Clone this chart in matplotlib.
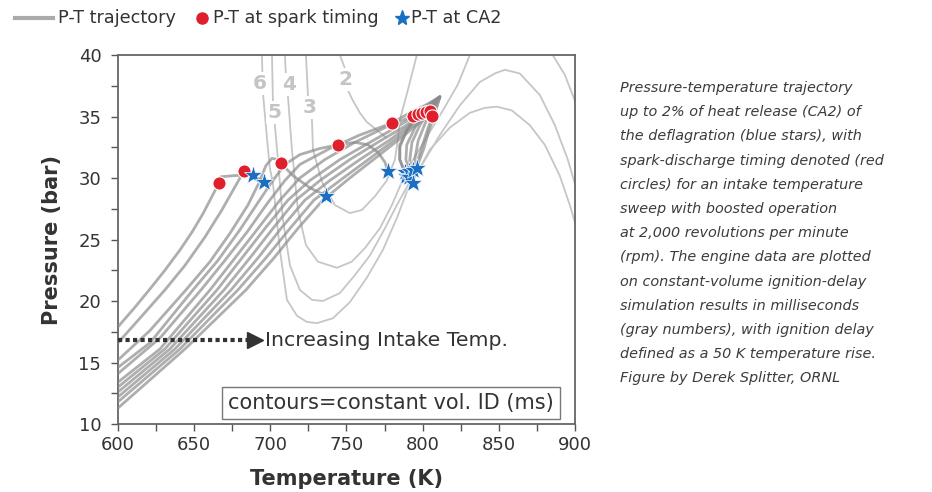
import matplotlib
matplotlib.use("Agg")
import matplotlib.pyplot as plt
from matplotlib.lines import Line2D
from matplotlib.ticker import MultipleLocator

# P-T trajectories (K, bar), one per intake temperature, compression -> spark -> CA2
traj_T = [
    [600, 611.2, 621, 630.8, 640.7, 648.6, 655.8, 661.7, 666.3, 667.6, 676.8, 688.4],
    [600, 614.4, 630.8, 644, 657.1, 668.2, 675.5, 680.1, 682.7, 689.2, 696],
    [600, 621, 644.6, 660.4, 673.5, 685.3, 692.5, 697.1, 701.1, 705, 707, 714.8, 726, 736.5],
    [600, 621, 649.2, 665.6, 680.1, 691.9, 701.1, 709.6, 719.4, 732.6, 744.4, 755.5, 764.1, 770.6, 775.2, 777.2],
    [600, 627.6, 654.5, 670.2, 684.7, 698.4, 709.6, 719.4, 739.1, 758.8, 779.8, 791.6, 801.5, 811.3, 801.5, 791.6, 785, 785, 788.3],
    [600, 627.6, 660.4, 676.8, 691.9, 706.3, 719.4, 735.8, 755.5, 775.2, 793.6, 803.4, 811.3, 799.5, 789.6, 785, 785, 789],
    [600, 630.8, 665, 681.4, 696.5, 711.6, 726, 745.7, 765.4, 783.7, 796.9, 804.7, 811.3, 803.4, 795, 789.6, 789, 790.9],
    [600, 634.1, 669.6, 686.6, 701.7, 716.8, 732.6, 752.2, 771.9, 788.3, 799.5, 806, 811.3, 804.7, 798.2, 793, 791.6, 790.9],
    [600, 637.4, 674.2, 691.9, 707, 722.7, 739.1, 758.8, 778.5, 792.9, 802.1, 807.4, 811.3, 806, 801.5, 797, 795, 793.6],
    [600, 640.7, 678.7, 697.1, 712.9, 728.6, 745.7, 765.4, 783.7, 796.9, 804.7, 808.7, 811.3, 807.4, 803.4, 799.5, 796.2, 793.6],
    [600, 644, 684, 702.4, 718.1, 734.5, 752.2, 771.9, 788.3, 799.5, 806, 809.3, 811.3, 808, 804, 800.8, 797.5, 796.2],
]
traj_P = [
    [17.9, 19.5, 20.98, 22.5, 24.15, 25.6, 27.1, 28.5, 29.6, 30.1, 30.2, 30.24],
    [16.6, 18.6, 20.9, 22.9, 25.2, 27.4, 29.0, 30.0, 30.57, 30.2, 29.65],
    [15.2, 17.6, 20.9, 23.2, 25.5, 27.8, 29.6, 31.0, 31.6, 31.5, 31.2, 30.2, 29.2, 28.56],
    [14.6, 16.6, 20.9, 23.3, 25.8, 28.0, 29.7, 31.1, 31.9, 32.4, 32.7, 32.9, 32.7, 32.1, 31.3, 30.57],
    [14.1, 17.0, 20.9, 23.3, 25.6, 28.0, 29.8, 31.1, 32.4, 33.5, 34.47, 35.3, 35.9, 36.6, 35.7, 34.3, 32.7, 31.5, 30.49],
    [13.4, 16.1, 20.9, 23.5, 25.9, 28.2, 30.0, 31.5, 32.9, 34.1, 35.04, 35.9, 36.6, 35.4, 33.9, 32.5, 31.5, 30.16],
    [13.0, 16.1, 20.9, 23.5, 25.9, 28.2, 29.8, 31.5, 32.9, 34.2, 35.2, 36.0, 36.6, 35.5, 34.1, 32.7, 31.5, 30.57],
    [12.6, 16.1, 20.9, 23.5, 25.9, 28.2, 29.8, 31.5, 33.0, 34.2, 35.28, 36.1, 36.6, 35.5, 34.3, 32.9, 31.5, 30.08],
    [12.2, 16.1, 20.9, 23.5, 25.9, 28.2, 29.8, 31.5, 33.1, 34.4, 35.37, 36.1, 36.6, 35.6, 34.4, 33.0, 31.6, 30.65],
    [11.8, 16.1, 20.9, 23.5, 25.9, 28.2, 29.8, 31.6, 33.3, 34.6, 35.45, 36.1, 36.6, 35.4, 34.0, 32.5, 31.2, 29.59],
    [11.3, 16.1, 20.9, 23.5, 25.9, 28.2, 30.0, 31.9, 33.5, 34.7, 35.04, 35.9, 36.6, 35.2, 33.8, 32.4, 31.3, 30.81],
]

# spark discharge and CA2 points
spark_T = [666.3, 682.7, 707, 744.4, 779.8, 793.6, 796.9, 799.5, 802.1, 804.7, 806]
spark_P = [29.6, 30.57, 31.2, 32.7, 34.47, 35.04, 35.2, 35.28, 35.37, 35.45, 35.04]
ca2_T = [688.4, 696, 736.5, 777.2, 788.3, 789, 790.9, 790.9, 793.6, 793.6, 796.2]
ca2_P = [30.24, 29.65, 28.56, 30.57, 30.49, 30.16, 30.57, 30.08, 30.65, 29.59, 30.81]

# constant-volume ignition delay contours (ms)
cont_T = {
    "6": [694.5, 695.1, 697.8, 699.7, 701.7, 706.3, 710.9, 717.5, 724, 730.6, 741.1, 752.2, 763.4, 773.9,
          783.1, 789.6, 796.9, 804.7, 817.9, 831, 840.8, 848.7, 858.5, 870.3, 880.2, 890, 896.6, 901.2],
    "5": [701.1, 701.7, 703, 705, 708.3, 712.9, 719.4, 727.3, 734.5, 745.7, 755.5, 765.4, 775.2, 783.1,
          791.6, 799.5, 811.3, 824.4, 837.5, 847.4, 854, 863.8, 876.9, 886.8, 895.3, 901.2],
    "4": [709.6, 710.2, 711.6, 714.2, 718.1, 723.4, 731.2, 743.7, 753.5, 762.1, 771.9, 779.8, 786.4,
          792.9, 801.5, 813.3, 823.1, 831],
    "3": [723.4, 724.7, 727.3, 728, 733.9, 742.4, 752.2, 760.1, 768.6, 776.5, 781.8, 783.7, 785, 790.3, 796.2],
    "2": [745.7, 749, 750.3, 754.2, 758.8, 763.4, 770, 775.9],
    "1": [885.4, 893.3, 901.2],
}
cont_P = {
    "6": [40, 37.0, 33.25, 30.8, 29.6, 24.15, 20.1, 18.8, 18.3, 18.2, 18.6, 19.9, 21.9, 24.15,
          26.75, 28.86, 30.5, 32.3, 34.1, 35.3, 35.7, 35.8, 35.5, 34.3, 32.7, 30.2, 27.8, 25.9],
    "5": [40, 36.3, 34.3, 31.5, 26.6, 22.9, 20.9, 20.1, 20.0, 20.65, 22.1, 23.7, 25.9, 27.8,
          29.7, 31.06, 33.5, 35.9, 37.8, 38.5, 38.8, 38.5, 36.75, 34.3, 31.5, 29.0],
    "4": [40, 38.4, 36.6, 32.3, 27.4, 24.55, 23.2, 22.7, 23.2, 24.3, 25.9, 27.8, 29.7,
          31.3, 33.1, 35.5, 37.6, 40],
    "3": [40, 36.75, 34.9, 32.3, 29.7, 27.8, 27.15, 27.4, 28.5, 29.8, 31.5, 33.1, 34.7, 37.15, 40],
    "2": [40, 38.9, 37.3, 36.3, 35.3, 34.55, 33.9, 33.3],
    "1": [40, 38.4, 35.9],
}
label_names = ["6", "5", "4", "3", "2"]
label_T = [693.2, 703, 712.2, 726, 749.6]
label_P = [37.7, 35.3, 37.6, 35.7, 38.0]

caption = [
    "Pressure-temperature trajectory",
    "up to 2% of heat release (CA2) of",
    "the deflagration (blue stars), with",
    "spark-discharge timing denoted (red",
    "circles) for an intake temperature",
    "sweep with boosted operation",
    "at 2,000 revolutions per minute",
    "(rpm). The engine data are plotted",
    "on constant-volume ignition-delay",
    "simulation results in milliseconds",
    "(gray numbers), with ignition delay",
    "defined as a 50 K temperature rise.",
    "Figure by Derek Splitter, ORNL",
]

RED = "#e01f2d"
BLUE = "#1b6fc2"
TRAJ = "#8c8c8c"
CONT = "#c6c6c6"
TXT = "#333333"

plt.rcParams["font.family"] = "DejaVu Sans"

fig = plt.figure(figsize=(9.32, 4.92), dpi=100)
ax = fig.add_axes([0.1266, 0.1382, 0.4903, 0.75])

for k in cont_T:
    ax.plot(cont_T[k], cont_P[k], color=CONT, lw=1.3, zorder=1)
for name, t, p in zip(label_names, label_T, label_P):
    ax.text(t, p, name, ha="center", va="center", fontsize=14.5, fontweight="bold",
            color="#c4c4c4", zorder=2,
            bbox=dict(boxstyle="square,pad=0.1", fc="white", ec="none"))

for t, p in zip(traj_T, traj_P):
    ax.plot(t, p, color=TRAJ, lw=2.0, alpha=0.7, solid_capstyle="round", zorder=3)

ax.plot(spark_T, spark_P, ls="none", marker="o", ms=9.5, mfc=RED, mec="white", mew=0.8, zorder=5)
ax.plot(ca2_T, ca2_P, ls="none", marker="*", ms=14, mfc=BLUE, mec="white", mew=0.5, zorder=6)

# intake temperature arrow
ax.plot([600, 686], [16.8, 16.8], color="#333333", lw=3, ls=(0, (1, 0.8)), dash_capstyle="butt", zorder=4)
ax.plot([690], [16.8], marker=">", ms=11, color="#333333", zorder=4)
ax.text(696.5, 16.8, "Increasing Intake Temp.", fontsize=14.7, color=TXT, va="center", ha="left")

ax.text(779.2, 11.7, "contours=constant vol. ID (ms)", fontsize=15, color=TXT, ha="center", va="center",
        bbox=dict(boxstyle="square,pad=0.3", fc="white", ec="#777777", lw=1.0), zorder=7)

ax.set_xlim(600, 900)
ax.set_ylim(10, 40)
ax.xaxis.set_major_locator(MultipleLocator(50))
ax.xaxis.set_minor_locator(MultipleLocator(25))
ax.yaxis.set_major_locator(MultipleLocator(5))
ax.yaxis.set_minor_locator(MultipleLocator(2.5))
ax.tick_params(which="both", direction="out", length=5, width=1, color="#555555",
               labelsize=13, labelcolor=TXT)
ax.tick_params(axis="y", pad=7)
for s in ax.spines.values():
    s.set_color("#666666")
    s.set_linewidth(1.3)
ax.set_xlabel("Temperature (K)", fontsize=15, fontweight="bold", color=TXT, labelpad=11)
ax.set_ylabel("Pressure (bar)", fontsize=15, fontweight="bold", color=TXT, labelpad=12)

# legend row drawn by hand
ly = 1 - 18 / 492
fig.add_artist(Line2D([0.0161, 0.0569], [ly, ly], color="#aaaaaa", lw=3, transform=fig.transFigure))
fig.text(0.0622, ly, "P-T trajectory", fontsize=12.7, color=TXT, va="center")
fig.add_artist(Line2D([0.2167], [ly], marker="o", ms=8, mfc=RED, mec=RED, transform=fig.transFigure))
fig.text(0.2285, ly, "P-T at spark timing", fontsize=12.7, color=TXT, va="center")
fig.add_artist(Line2D([0.4313], [ly], marker="*", ms=11, mfc=BLUE, mec=BLUE, transform=fig.transFigure))
fig.text(0.441, ly, "P-T at CA2", fontsize=12.7, color=TXT, va="center")

for i, line in enumerate(caption):
    fig.text(620 / 932, 1 - (88 + 24.2 * i) / 492, line, fontsize=10.4, style="italic",
             color="#3c3c3c", va="center", ha="left")

fig.savefig("out.png", dpi=100)
